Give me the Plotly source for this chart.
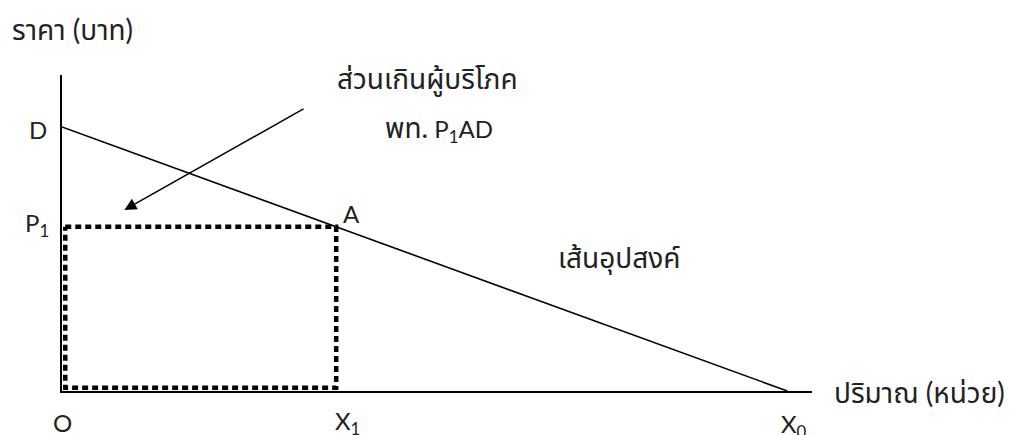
import plotly.graph_objects as go

# Economic model values (quantity units, price units)
demand_q = [0, 100]          # D at q=0, X0 at q=100
demand_p = [100, 0]
q1 = 37.8                    # X1
p1 = 62.2                    # P1
rect_q = [0.45, q1, q1, 0.45, 0.45]
rect_p = [p1, p1, 1.2, 1.2, p1]
arrow_tail = (33.5, 107.2)
arrow_head = (8.6, 68.6)

X_MAX = 103.4
Y_MAX = 119.7

FONT = "Lato, Noto Sans Thai, Noto Sans Thai Looped, Noto Sans, DejaVu Sans, sans-serif"
TXT = "#222222"
TH = 28   # Thai text size
LA = 24   # Latin text size

fig = go.Figure()
fig.add_trace(go.Scatter(x=demand_q, y=demand_p, mode="lines",
                         line=dict(color="black", width=1.6), hoverinfo="skip"))
fig.add_trace(go.Scatter(x=rect_q, y=rect_p, mode="lines",
                         line=dict(color="black", width=4.5, dash="6px,4px"), hoverinfo="skip"))

fig.add_annotation(x=arrow_head[0], y=arrow_head[1], ax=arrow_tail[0], ay=arrow_tail[1],
                   xref="x", yref="y", axref="x", ayref="y", text="", showarrow=True,
                   arrowhead=2, arrowsize=1.6, arrowwidth=1.5, arrowcolor="black")


def th(s):
    return f'<span style="font-size:{TH}px">{s}</span>'


labels = [
    (th("ราคา (บาท)"), -7.2, 137.0, "left"),
    (th("ส่วนเกินผู้บริโภค"), 37.7, 118.0, "left"),
    (th("พท.") + " P<sub>1</sub>AD", 44.3, 99.6, "left"),
    ("D", -3.3, 98.9, "center"),
    ("P<sub>1</sub>", -1.5, 62.9, "right"),
    ("A", 38.5, 67.4, "left"),
    (th("เส้นอุปสงค์"), 68.1, 50.4, "left"),
    (th("ปริมาณ (หน่วย)"), 106.2, -0.4, "left"),
    ("O", 0.1, -11.9, "center"),
    ("X<sub>1</sub>", 37.4, -11.9, "left"),
    ("X<sub>0</sub>", 98.8, -13.0, "left"),
]
for t, x, y, xa in labels:
    fig.add_annotation(x=x / X_MAX, y=y / Y_MAX, xref="paper", yref="paper", text=t,
                       showarrow=False, xanchor=xa, yanchor="middle",
                       font=dict(family=FONT, size=LA, color=TXT))

fig.update_xaxes(range=[0, X_MAX], showgrid=False, zeroline=False, showticklabels=False,
                 ticks="", showline=True, linecolor="black", linewidth=2)
fig.update_yaxes(range=[0, Y_MAX], showgrid=False, zeroline=False, showticklabels=False,
                 ticks="", showline=True, linecolor="black", linewidth=2)
fig.update_layout(width=1011, height=435, showlegend=False,
                  margin=dict(l=62, r=199, t=75, b=44),
                  plot_bgcolor="white", paper_bgcolor="white")
fig.write_html("out.html", config={"displayModeBar": False},
               post_script="document.body.style.margin='0';document.body.style.overflow='hidden';")
